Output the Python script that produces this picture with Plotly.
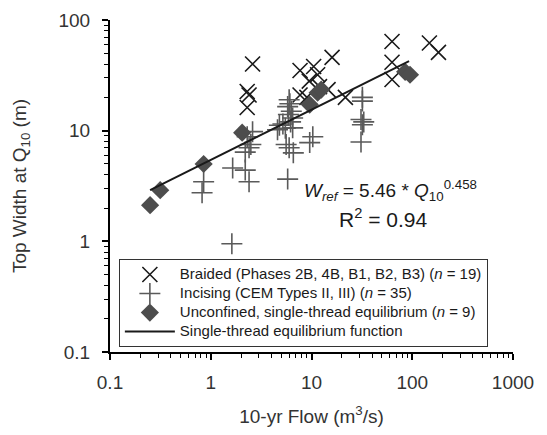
import plotly.graph_objects as go

# Braided (x markers)
braided_q = [2.6, 2.3, 2.4, 2.3, 7.7, 10.5, 11.5, 16.0, 7.7, 9.0, 14.6, 21.7, 63, 63, 63, 148, 182, 9.5, 12.0]
braided_w = [40, 22.6, 21.0, 16.2, 35, 38, 32, 46, 21, 20, 23.5, 20, 64, 41.5, 29, 62, 51, 28, 25]

# Incising (+ markers)
incising_q = [0.85, 0.82, 1.62, 1.65, 2.2, 2.4, 2.3, 2.4, 2.2, 2.6, 4.6, 4.8, 5.5, 5.8, 6.0, 6.3,
              6.5, 6.5, 5.6, 6.0, 6.6, 5.8, 10.3, 9.6, 32, 32, 31, 32, 31, 6.2, 5.2, 6.1, 33, 2.5, 5.9]
incising_w = [3.45, 2.75, 0.95, 4.6, 4.4, 3.45, 8.8, 7.0, 6.4, 9.8, 10.2, 11.2, 10.5, 16.5, 19.0, 15.0,
              13.0, 10.6, 7.5, 7.0, 6.3, 3.65, 8.8, 7.8, 20, 18.5, 12.6, 11.3, 7.9, 12.0, 11.5, 17.5, 12.0, 7.5, 14.0]

# Unconfined, single-thread equilibrium (diamonds)
unconf_q = [0.25, 0.315, 0.85, 2.05, 9.6, 11.5, 12.5, 85, 95]
unconf_w = [2.12, 2.9, 5.0, 9.6, 17.2, 22.0, 23.5, 34, 32]

# Single-thread equilibrium function endpoints
line_q = [0.25, 93]
line_w = [2.9, 42.5]

x_tickvals = [0.1, 1, 10, 100, 1000]
x_ticktext = ["0.1", "1", "10", "100", "1000"]
y_tickvals = [0.1, 1, 10, 100]
y_ticktext = ["0.1", "1", "10", "100"]
x_minor = [m * d for d in [0.1, 1, 10, 100] for m in range(2, 10)]
y_minor = [m * d for d in [0.1, 1, 10] for m in range(2, 10)]

FONT = "Liberation Sans, Arial, sans-serif"
LEG = '<span style="font-size:15px">{}</span>'

fig = go.Figure()
fig.add_trace(go.Scatter(
    x=braided_q, y=braided_w, mode="markers",
    name=LEG.format("Braided (Phases 2B, 4B, B1, B2, B3) (<i>n</i> = 19)"),
    marker=dict(symbol="x-thin-open", size=15, line=dict(color="#1a1a1a", width=1.6), color="#1a1a1a")))
fig.add_trace(go.Scatter(
    x=incising_q, y=incising_w, mode="markers",
    name=LEG.format("Incising (CEM Types II, III) (<i>n</i> = 35)"),
    marker=dict(symbol="cross-thin-open", size=15, line=dict(color="#5a5a5a", width=1.6), color="#5a5a5a")))
fig.add_trace(go.Scatter(
    x=unconf_q, y=unconf_w, mode="markers",
    name=LEG.format("Unconfined, single-thread equilibrium (<i>n</i> = 9)"),
    marker=dict(symbol="diamond", size=14, color="#4d4d4d", line=dict(width=0))))
fig.add_trace(go.Scatter(
    x=line_q, y=line_w, mode="lines",
    name=LEG.format("Single-thread equilibrium function"),
    line=dict(color="#1a1a1a", width=2)))

axis_common = dict(
    type="log", showgrid=False, zeroline=False, showline=True, linecolor="black", linewidth=2,
    ticks="outside", ticklen=6, tickwidth=1.5, tickcolor="black", automargin=False,
    tickfont=dict(family=FONT, size=19, color="#333333"),
)

fig.update_xaxes(**axis_common, range=[-1, 3], tickvals=x_tickvals, ticktext=x_ticktext,
                 ticklabelstandoff=6,
                 minor=dict(ticks="outside", ticklen=4, tickwidth=1, tickcolor="black", showgrid=False, tickvals=x_minor),
                 title=dict(text="10-yr Flow (m<sup>3</sup>/s)", font=dict(family=FONT, size=19, color="#333333"), standoff=18))
fig.update_yaxes(**axis_common, range=[-1, 2], tickvals=y_tickvals, ticktext=y_ticktext,
                 ticklabelstandoff=8,
                 minor=dict(ticks="outside", ticklen=4, tickwidth=1, tickcolor="black", showgrid=False, tickvals=y_minor),
                 title=dict(text="Top Width at Q<sub>10</sub> (m)", font=dict(family=FONT, size=19, color="#333333"), standoff=27))

fig.add_annotation(xref="paper", yref="paper", x=0.697, y=0.486, xanchor="center", yanchor="middle", showarrow=False,
                   text="<i>W<sub>ref</sub></i> = 5.46 * <i>Q</i><sub>10</sub><sup>0.458</sup>",
                   font=dict(family=FONT, size=19, color="#1a1a1a"))
fig.add_annotation(xref="paper", yref="paper", x=0.677, y=0.404, xanchor="center", yanchor="middle", showarrow=False,
                   text="R<sup>2</sup> = 0.94",
                   font=dict(family=FONT, size=21, color="#1a1a1a"))

fig.update_layout(
    width=539, height=427,
    margin=dict(l=102, r=34, t=12, b=83),
    plot_bgcolor="white", paper_bgcolor="white",
    showlegend=True,
    legend=dict(x=0.022, y=0.28, xanchor="left", yanchor="top",
                bgcolor="white", bordercolor="#333333", borderwidth=1,
                font=dict(family=FONT, size=12, color="#1a1a1a"),
                tracegroupgap=0, itemwidth=50),
)

fig.write_html("out.html")
